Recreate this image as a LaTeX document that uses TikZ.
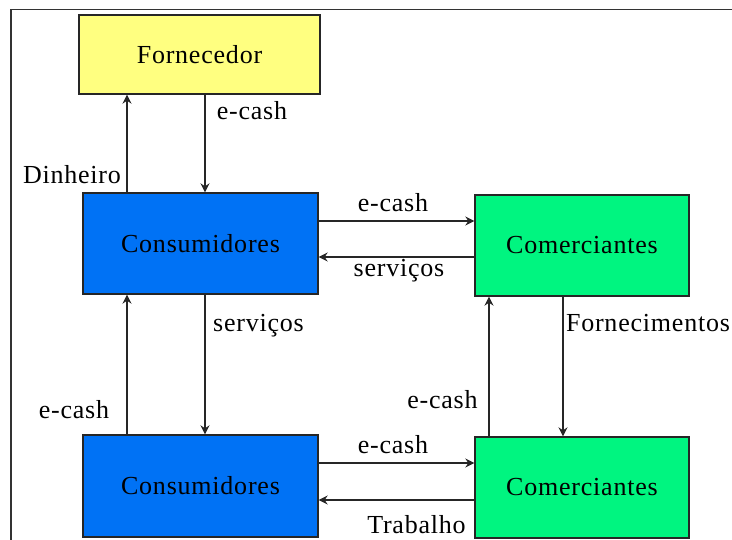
\documentclass[tikz,border=0pt]{standalone}
\usepackage{fontspec}
\setmainfont{Liberation Serif}[LetterSpace=3]
\usetikzlibrary{arrows.meta}
\definecolor{supplyyellow}{RGB}{255,255,128}
\definecolor{clientblue}{RGB}{0,114,245}
\definecolor{shopgreen}{RGB}{0,245,128}
\tikzset{
  entity/.style={draw=black!85, line width=1.4pt, inner sep=0pt,
    font=\fontsize{26}{30}\selectfont},
  flow/.style={draw=black!85, line width=1.2pt,
    -{Stealth[length=9pt,width=9pt,inset=3pt]}},
  tag/.style={inner sep=0pt, font=\fontsize{26}{30}\selectfont},
  frame/.style={draw=black!80, line width=1.5pt}
}
\begin{document}
\begin{tikzpicture}[x=1pt, y=-1pt]
  \useasboundingbox (0,0) rectangle (732,540);
  % outer frame (top and left edges)
  \draw[frame] (11,540) -- (11,9.5) -- (732,9.5);

  % entities
  \node[entity, fill=supplyyellow, minimum width=241pt, minimum height=79pt]
    (forn) at (199.5,54.5) {Fornecedor};
  \node[entity, fill=clientblue, minimum width=235pt, minimum height=101pt]
    (cons1) at (200.5,243.5) {Consumidores};
  \node[entity, fill=shopgreen, minimum width=214pt, minimum height=101pt]
    (com1) at (582,245.5) {Comerciantes};
  \node[entity, fill=clientblue, minimum width=235pt, minimum height=102pt]
    (cons2) at (200.5,486) {Consumidores};
  \node[entity, fill=shopgreen, minimum width=214pt, minimum height=101pt]
    (com2) at (582,487.5) {Comerciantes};

  % columns and rows of the connectors
  \coordinate (colA) at (127,0);
  \coordinate (colB) at (205,0);
  \coordinate (colC) at (489,0);
  \coordinate (colD) at (563,0);
  \coordinate (rowA) at (0,221);
  \coordinate (rowB) at (0,257);
  \coordinate (rowC) at (0,463);
  \coordinate (rowD) at (0,500);

  % connectors
  \draw[flow] (cons1.north -| colA) -- (forn.south -| colA);
  \draw[flow] (forn.south -| colB) -- (cons1.north -| colB);
  \draw[flow] (cons1.east |- rowA) -- (com1.west |- rowA);
  \draw[flow] (com1.west |- rowB) -- (cons1.east |- rowB);
  \draw[flow] (cons2.north -| colA) -- (cons1.south -| colA);
  \draw[flow] (cons1.south -| colB) -- (cons2.north -| colB);
  \draw[flow] (com2.north -| colC) -- (com1.south -| colC);
  \draw[flow] (com1.south -| colD) -- (com2.north -| colD);
  \draw[flow] (cons2.east |- rowC) -- (com2.west |- rowC);
  \draw[flow] (com2.west |- rowD) -- (cons2.east |- rowD);

  % connector labels
  \node[tag] (lDinheiro) at (72,175) {Dinheiro};
  \node[tag] (lCashTop) at (252,111) {e-cash};
  \node[tag] (lCashMid) at (393,203) {e-cash};
  \node[tag] (lServMid) at (399,271) {serviços};
  \node[tag] (lServLeft) at (258.5,326) {serviços};
  \node[tag] (lCashLeft) at (74,410) {e-cash};
  \node[tag] (lCashRight) at (442.5,400) {e-cash};
  \node[tag] (lFornec) at (648,323) {Fornecimentos};
  \node[tag] (lCashLow) at (393,445) {e-cash};
  \node[tag] (lTrab) at (416.5,525) {Trabalho};
\end{tikzpicture}
\end{document}
